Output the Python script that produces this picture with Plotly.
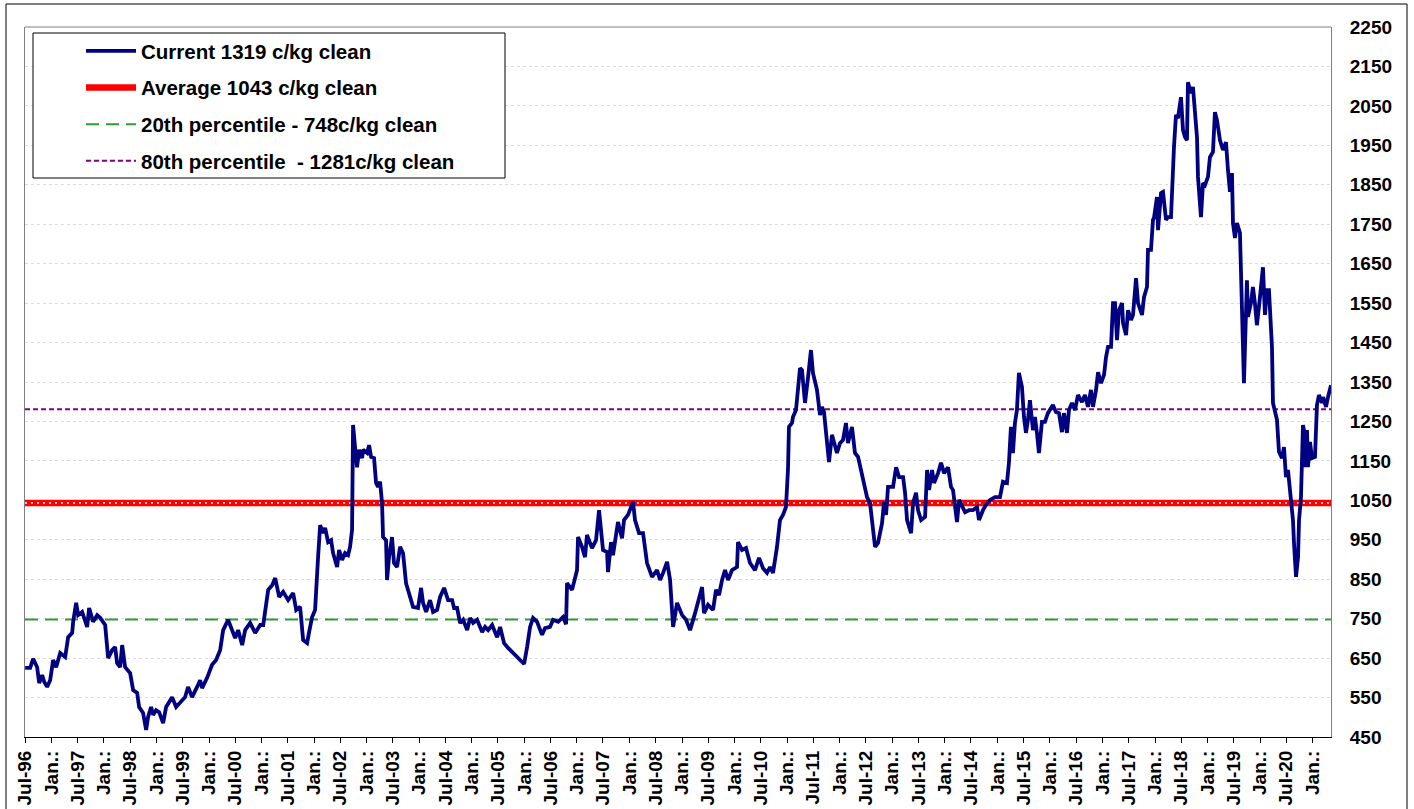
import pandas as pd
import plotly.graph_objects as go

# ---- data (decimal year, c/kg clean) ----
dec_years = [
    1996.500, 1996.595, 1996.652, 1996.728, 1996.766, 1996.823, 1996.861, 1996.918, 1996.975, 1997.032,
    1997.089, 1997.166, 1997.261, 1997.318, 1997.394, 1997.413, 1997.470, 1997.508, 1997.584, 1997.679,
    1997.717, 1997.793, 1997.870, 1997.927, 1998.022, 1998.079, 1998.155, 1998.212, 1998.250, 1998.308,
    1998.346, 1998.403, 1998.498, 1998.555, 1998.631, 1998.669, 1998.745, 1998.802, 1998.840, 1998.897,
    1998.935, 1998.992, 1999.050, 1999.126, 1999.183, 1999.297, 1999.373, 1999.449, 1999.544, 1999.601,
    1999.677, 1999.773, 1999.830, 1999.868, 1999.963, 2000.058, 2000.134, 2000.211, 2000.268, 2000.363,
    2000.439, 2000.496, 2000.553, 2000.629, 2000.686, 2000.781, 2000.876, 2000.972, 2001.029, 2001.067,
    2001.124, 2001.200, 2001.257, 2001.333, 2001.409, 2001.504, 2001.599, 2001.657, 2001.732, 2001.789,
    2001.865, 2001.903, 2001.960, 2002.017, 2002.055, 2002.074, 2002.113, 2002.170, 2002.208, 2002.265,
    2002.322, 2002.360, 2002.436, 2002.474, 2002.531, 2002.588, 2002.645, 2002.683, 2002.721, 2002.740,
    2002.778, 2002.816, 2002.855, 2002.912, 2002.931, 2003.007, 2003.045, 2003.083, 2003.140, 2003.178,
    2003.216, 2003.254, 2003.292, 2003.311, 2003.368, 2003.387, 2003.425, 2003.482, 2003.520, 2003.578,
    2003.635, 2003.692, 2003.749, 2003.825, 2003.882, 2003.977, 2004.035, 2004.073, 2004.130, 2004.206,
    2004.263, 2004.339, 2004.396, 2004.472, 2004.548, 2004.624, 2004.662, 2004.719, 2004.777, 2004.834,
    2004.910, 2004.967, 2005.024, 2005.100, 2005.195, 2005.252, 2005.309, 2005.385, 2005.481, 2005.537,
    2005.613, 2005.689, 2005.784, 2005.879, 2005.956, 2005.994, 2006.051, 2006.108, 2006.165, 2006.241,
    2006.336, 2006.393, 2006.488, 2006.545, 2006.641, 2006.736, 2006.793, 2006.812, 2006.907, 2007.002,
    2007.021, 2007.097, 2007.154, 2007.192, 2007.287, 2007.364, 2007.421, 2007.497, 2007.573, 2007.592,
    2007.649, 2007.687, 2007.782, 2007.859, 2007.897, 2007.973, 2008.068, 2008.106, 2008.182, 2008.258,
    2008.334, 2008.429, 2008.524, 2008.582, 2008.639, 2008.715, 2008.772, 2008.829, 2008.905, 2009.000,
    2009.076, 2009.152, 2009.247, 2009.305, 2009.380, 2009.418, 2009.494, 2009.589, 2009.646, 2009.703,
    2009.761, 2009.818, 2009.875, 2009.951, 2010.046, 2010.065, 2010.141, 2010.217, 2010.293, 2010.388,
    2010.465, 2010.541, 2010.617, 2010.674, 2010.731, 2010.807, 2010.864, 2010.921, 2010.978, 2011.016,
    2011.035, 2011.092, 2011.111, 2011.169, 2011.207, 2011.245, 2011.283, 2011.340, 2011.397, 2011.454,
    2011.492, 2011.568, 2011.626, 2011.664, 2011.702, 2011.759, 2011.797, 2011.854, 2011.892, 2011.949,
    2012.006, 2012.063, 2012.120, 2012.158, 2012.234, 2012.291, 2012.349, 2012.406, 2012.463, 2012.520,
    2012.577, 2012.634, 2012.672, 2012.729, 2012.805, 2012.843, 2012.881, 2012.919, 2013.014, 2013.072,
    2013.129, 2013.205, 2013.243, 2013.281, 2013.357, 2013.395, 2013.452, 2013.490, 2013.548, 2013.624,
    2013.662, 2013.700, 2013.757, 2013.795, 2013.871, 2013.928, 2013.985, 2014.061, 2014.118, 2014.156,
    2014.232, 2014.271, 2014.328, 2014.385, 2014.461, 2014.537, 2014.613, 2014.651, 2014.727, 2014.803,
    2014.860, 2014.955, 2015.050, 2015.107, 2015.183, 2015.221, 2015.259, 2015.297, 2015.335, 2015.373,
    2015.411, 2015.469, 2015.507, 2015.545, 2015.583, 2015.621, 2015.678, 2015.716, 2015.754, 2015.792,
    2015.849, 2015.906, 2015.963, 2016.058, 2016.115, 2016.173, 2016.230, 2016.268, 2016.325, 2016.363,
    2016.420, 2016.477, 2016.534, 2016.610, 2016.667, 2016.724, 2016.781, 2016.819, 2016.877, 2016.915,
    2016.972, 2017.029, 2017.067, 2017.105, 2017.162, 2017.181, 2017.200, 2017.238, 2017.276, 2017.314,
    2017.372, 2017.391, 2017.448, 2017.486, 2017.543, 2017.581, 2017.638, 2017.676, 2017.752, 2017.790,
    2017.847, 2017.866, 2017.923, 2017.961, 2017.980, 2018.037, 2018.057, 2018.114, 2018.152, 2018.209,
    2018.247, 2018.304, 2018.323, 2018.361, 2018.399, 2018.437, 2018.494, 2018.532, 2018.570, 2018.608,
    2018.627, 2018.684, 2018.722, 2018.760, 2018.799, 2018.818, 2018.875, 2018.913, 2018.951, 2019.008,
    2019.046, 2019.103, 2019.141, 2019.179, 2019.237, 2019.294, 2019.351, 2019.389, 2019.427, 2019.465,
    2019.484, 2019.522, 2019.560, 2019.617, 2019.655, 2019.693, 2019.750, 2019.769, 2019.826, 2019.864,
    2019.902, 2019.940, 2019.998, 2020.055, 2020.093, 2020.131, 2020.169, 2020.226, 2020.245, 2020.321,
    2020.359, 2020.416, 2020.454, 2020.492, 2020.530, 2020.587, 2020.625, 2020.644, 2020.683, 2020.721,
    2020.740, 2020.777, 2020.815, 2020.834, 2020.853, 2020.891, 2020.910, 2020.948, 2020.986, 2021.043,
    2021.081, 2021.119, 2021.177, 2021.196, 2021.253, 2021.291, 2021.348,
]

price_c_kg = [
    625, 625, 648, 627, 587, 607, 590, 577, 594, 645,
    627, 663, 653, 703, 714, 742, 790, 759, 767, 729,
    777, 742, 759, 752, 734, 650, 670, 678, 637, 627,
    683, 627, 612, 569, 562, 526, 511, 468, 501, 526,
    506, 518, 513, 485, 526, 551, 526, 536, 551, 577,
    551, 577, 594, 574, 600, 633, 645, 670, 721, 747,
    721, 701, 721, 683, 721, 739, 714, 734, 734, 772,
    823, 835, 853, 805, 818, 797, 815, 772, 780, 696,
    688, 716, 754, 772, 881, 906, 987, 967, 980, 944,
    949, 916, 881, 924, 899, 916, 911, 932, 975, 1241,
    1185, 1134, 1178, 1157, 1178, 1170, 1190, 1160, 1157, 1094,
    1084, 1097, 1043, 957, 949, 848, 906, 957, 891, 881,
    932, 916, 840, 805, 780, 777, 828, 790, 767, 797,
    767, 772, 805, 828, 797, 797, 777, 777, 739, 747,
    721, 752, 739, 747, 716, 729, 721, 734, 703, 729,
    688, 676, 663, 650, 640, 635, 678, 729, 752, 742,
    709, 726, 729, 747, 742, 754, 736, 840, 823, 873,
    957, 932, 906, 962, 929, 949, 1025, 924, 919, 868,
    944, 911, 995, 954, 1000, 1013, 1046, 1000, 967, 967,
    891, 856, 873, 848, 866, 894, 848, 729, 790, 759,
    747, 721, 764, 790, 830, 764, 785, 772, 823, 810,
    848, 873, 848, 873, 881, 944, 924, 929, 891, 873,
    904, 878, 866, 881, 866, 932, 1000, 1013, 1033, 1127,
    1236, 1246, 1261, 1279, 1337, 1385, 1380, 1297, 1360, 1431,
    1373, 1330, 1266, 1287, 1274, 1190, 1147, 1216, 1195, 1170,
    1195, 1203, 1246, 1195, 1236, 1170, 1160, 1127, 1084, 1058,
    1043, 975, 932, 942, 992, 1046, 1013, 1084, 1084, 1134,
    1109, 1109, 1069, 1000, 967, 1043, 1069, 1025, 1000, 1008,
    1127, 1076, 1127, 1094, 1119, 1145, 1119, 1134, 1084, 1076,
    995, 1051, 1033, 1020, 1025, 1025, 1033, 1000, 1025, 1043,
    1051, 1058, 1058, 1097, 1094, 1145, 1236, 1170, 1246, 1279,
    1373, 1337, 1261, 1221, 1254, 1304, 1228, 1261, 1221, 1170,
    1249, 1249, 1271, 1292, 1274, 1271, 1223, 1271, 1221, 1279,
    1297, 1279, 1317, 1299, 1317, 1287, 1330, 1287, 1330, 1375,
    1347, 1368, 1413, 1439, 1439, 1489, 1550, 1550, 1456, 1532,
    1550, 1499, 1469, 1532, 1507, 1520, 1613, 1550, 1520, 1565,
    1591, 1685, 1685, 1761, 1766, 1819, 1735, 1829, 1832, 1761,
    1768, 1768, 1844, 1946, 2027, 2019, 2072, 1989, 1971, 1963,
    2110, 2082, 2098, 2022, 1971, 1870, 1768, 1854, 1849, 1870,
    1920, 1933, 2034, 2014, 1963, 1938, 1958, 1887, 1832, 1880,
    1753, 1715, 1753, 1728, 1515, 1347, 1608, 1515, 1550, 1591,
    1550, 1494, 1565, 1641, 1520, 1583, 1583, 1439, 1297, 1254,
    1173, 1157, 1185, 1109, 1127, 1051, 1000, 942, 856, 906,
    1000, 1058, 1241, 1228, 1134, 1228, 1134, 1198, 1157, 1160,
    1292, 1317, 1297, 1312, 1287, 1312, 1342,
]

series_names = [
    "Current 1319 c/kg clean",
    "Average 1043 c/kg clean",
    "20th percentile - 748c/kg clean",
    "80th percentile  - 1281c/kg clean",
]
average_value = 1043
p20_value = 748
p80_value = 1281

y_tick_values = list(range(450, 2251, 100))
first_label_year = 1996
last_label_year = 2020


def to_date(t):
    year = int(t)
    start = pd.Timestamp(year=year, month=1, day=1)
    end = pd.Timestamp(year=year + 1, month=1, day=1)
    return start + (end - start) * (t - year)


dates = [to_date(t) for t in dec_years]

tick_vals, tick_text = [], []
for yr in range(first_label_year, last_label_year + 1):
    tick_vals.append(pd.Timestamp(year=yr, month=7, day=1))
    tick_text.append("Jul-%02d" % (yr % 100))
    tick_vals.append(pd.Timestamp(year=yr + 1, month=1, day=1))
    tick_text.append("Jan.:")

FONT = "Liberation Sans, Arial, sans-serif"
NAVY = "#000080"
RED = "#ff0000"
GREEN = "#339933"
PURPLE = "#800080"

x_start = pd.Timestamp(year=first_label_year, month=7, day=1)
x_span = [x_start, dates[-1]]

fig = go.Figure()
fig.add_trace(go.Scatter(x=x_span, y=[average_value] * 2, mode="lines", name=series_names[1],
                         line=dict(color=RED, width=6.5), legendgroup="b", legendrank=2))
fig.add_trace(go.Scatter(x=x_span, y=[average_value] * 2, mode="lines", showlegend=False,
                         line=dict(color="white", width=1.5, dash="2px,4px"), hoverinfo="skip",
                         legendgroup="b", legendrank=2))
fig.add_trace(go.Scatter(x=x_span, y=[p20_value] * 2, mode="lines", name=series_names[2],
                         line=dict(color=GREEN, width=2, dash="13px,7px"), legendgroup="c",
                         legendrank=3))
fig.add_trace(go.Scatter(x=x_span, y=[p80_value] * 2, mode="lines", name=series_names[3],
                         line=dict(color=PURPLE, width=2, dash="5px,3px"), legendgroup="d",
                         legendrank=4))
fig.add_trace(go.Scatter(x=dates, y=price_c_kg, mode="lines", name=series_names[0],
                         line=dict(color=NAVY, width=3.8), legendgroup="a", legendrank=1))

L, R, T, B = 25, 83, 27, 72
W, H = 1414, 809
pw, ph = W - L - R, H - T - B


def px(xp):
    return (xp - L) / pw


def py(yp):
    return (H - B - yp) / ph


fig.update_layout(
    width=W, height=H,
    margin=dict(l=L, r=R, t=T, b=B, pad=0),
    paper_bgcolor="white", plot_bgcolor="white",
    font=dict(family=FONT, color="black"),
    showlegend=True,
    legend=dict(
        x=px(81), y=py(31), xanchor="left", yanchor="top",
        bgcolor="rgba(0,0,0,0)", borderwidth=0,
        font=dict(family=FONT, size=20.5, weight="bold", color="black"),
        itemwidth=50, traceorder="grouped", tracegroupgap=7,
    ),
    xaxis=dict(
        type="date", range=x_span, tickmode="array", tickvals=tick_vals, ticktext=tick_text,
        tickangle=-90, tickfont=dict(family=FONT, size=19, weight="bold"),
        ticks="outside", ticklen=5, tickcolor="black", showgrid=False,
        showline=True, linecolor="black", linewidth=1, zeroline=False, automargin=False,
    ),
    yaxis=dict(
        side="right", range=[450, 2250], tickmode="array", tickvals=y_tick_values,
        tickfont=dict(family=FONT, size=19, weight="bold"), ticks="",
        ticklabelstandoff=14,
        showgrid=True, gridcolor="#dcdcdc", griddash="dot", gridwidth=1,
        showline=True, linecolor="#808080", linewidth=1, mirror=True,
        zeroline=False, automargin=False,
    ),
    shapes=[
        dict(type="line", xref="paper", yref="paper", x0=0, x1=1, y0=1, y1=1,
             line=dict(color="#808080", width=1)),
        dict(type="rect", xref="paper", yref="paper", x0=px(33), x1=px(505), y0=py(178), y1=py(33),
             line=dict(color="black", width=1), fillcolor="white", layer="above"),
        dict(type="rect", xref="paper", yref="paper", x0=px(6), x1=px(1407), y0=py(812), y1=py(4),
             line=dict(color="black", width=1), fillcolor="rgba(0,0,0,0)", layer="above"),
    ],
)

fig.write_html("out.html", config={"displayModeBar": False},
               post_script="document.body.style.margin='0';")
